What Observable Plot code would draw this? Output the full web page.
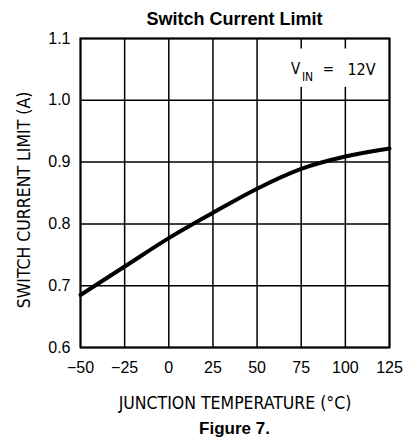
<!DOCTYPE html>
<html>
<head>
<meta charset="utf-8">
<script src="https://cdn.jsdelivr.net/npm/d3@7"></script>
<script src="https://cdn.jsdelivr.net/npm/@observablehq/plot@0.6"></script>
<style>
  html, body { margin: 0; padding: 0; background: #fff; }
  #wrap { position: relative; width: 403px; height: 438px; overflow: hidden; }
  #chart { position: absolute; left: 0; top: 0; }
  #title { position: absolute; left: 80px; width: 309px; top: 10px; text-align: center;
    font: bold 18px/18px "Liberation Sans", Arial, sans-serif; color: #000; }
  #caption { position: absolute; left: 80px; width: 309px; top: 420px; text-align: center;
    font: bold 17px/17px "Liberation Sans", Arial, sans-serif; color: #000; }
</style>
</head>
<body>
<div id="wrap">
  <div id="chart"></div>
  <div id="title">Switch Current Limit</div>
  <div id="caption">Figure 7.</div>
</div>
<script>
// Data
const temperatures = [-50, -25, 0, 25, 50, 75, 100, 125];
const currentLimit = [0.685, 0.731, 0.777, 0.818, 0.857, 0.889, 0.909, 0.922];
const xTicks = [-50, -25, 0, 25, 50, 75, 100, 125];
const yTicks = [0.6, 0.7, 0.8, 0.9, 1.0, 1.1];
const xLabel = "JUNCTION TEMPERATURE (°C)";
const yLabel = "SWITCH CURRENT LIMIT (A)";
const annoMain = "V";
const annoSub = "IN";
const annoEq = "=";
const annoValue = "12V";
// white box behind the annotation (data units)
const annoBox = [{x1: 66, x2: 123.5, y1: 1.021, y2: 1.083}];

const data = temperatures.map((t, i) => ({t, v: currentLimit[i]}));
const narrow = "'Liberation Sans Narrow', 'DejaVu Sans Condensed', sans-serif";
const sans = "'Liberation Sans', Arial, sans-serif";

const plot = Plot.plot({
  width: 403,
  height: 438,
  marginLeft: 80,
  marginRight: 14,
  marginTop: 38,
  marginBottom: 91,
  style: {background: "transparent", color: "black", fontFamily: sans},
  x: {domain: [-50, 125], ticks: xTicks},
  y: {domain: [0.6, 1.1], ticks: yTicks},
  marks: [
    Plot.gridX(xTicks, {stroke: "black", strokeOpacity: 1, strokeWidth: 1.5}),
    Plot.gridY(yTicks, {stroke: "black", strokeOpacity: 1, strokeWidth: 1.5}),
    Plot.rect(annoBox, {x1: "x1", x2: "x2", y1: "y1", y2: "y2", fill: "white"}),
    Plot.frame({stroke: "black", strokeWidth: 2}),
    Plot.axisX(xTicks, {tickSize: 0, tickPadding: 14, fontSize: 16, label: null, fontFamily: sans}),
    Plot.axisY(yTicks, {tickSize: 0, tickPadding: 10, fontSize: 16, label: null, tickFormat: d3.format(".1f"), fontFamily: sans}),
    Plot.line(data, {x: "t", y: "v", stroke: "black", strokeWidth: 4, curve: "monotone-x"}),
    Plot.text([yLabel], {frameAnchor: "left", textAnchor: "middle", rotate: -90, dx: -56, dy: 7, fontSize: 17.5, fontFamily: narrow}),
    Plot.text([xLabel], {frameAnchor: "bottom", dy: 61, fontSize: 17.5, fontFamily: narrow}),
    Plot.text([annoMain], {frameAnchor: "top-right", textAnchor: "middle", dx: -94, dy: 25, fontSize: 15, fontFamily: narrow}),
    Plot.text([annoSub], {frameAnchor: "top-right", textAnchor: "middle", dx: -82, dy: 34, fontSize: 12, fontFamily: narrow}),
    Plot.text([annoEq], {frameAnchor: "top-right", textAnchor: "middle", dx: -61, dy: 25, fontSize: 15, fontFamily: narrow}),
    Plot.text([annoValue], {frameAnchor: "top-right", textAnchor: "middle", dx: -28, dy: 25, fontSize: 16, fontFamily: narrow})
  ]
});
document.getElementById("chart").append(plot);
</script>
</body>
</html>
